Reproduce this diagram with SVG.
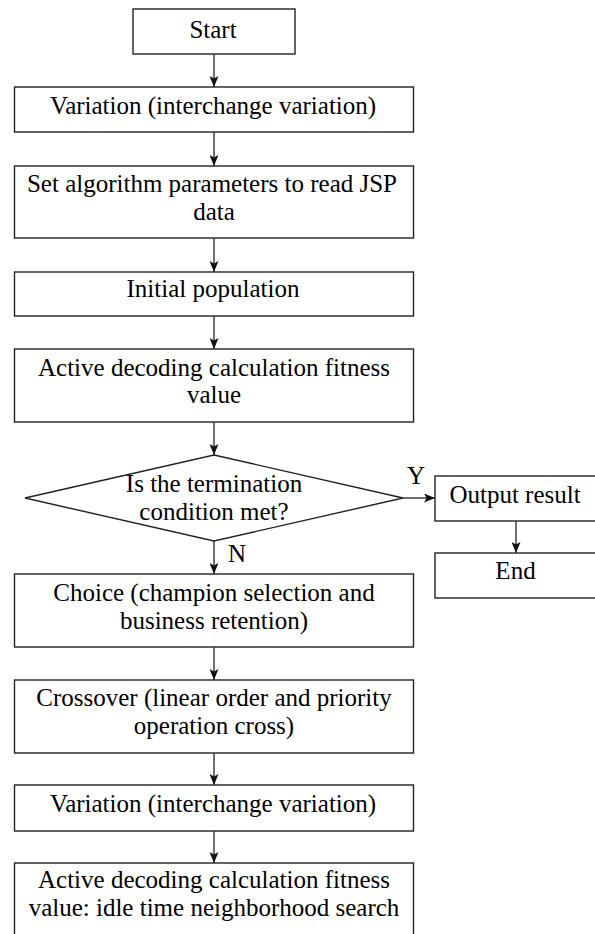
<svg xmlns="http://www.w3.org/2000/svg" width="595" height="934" viewBox="0 0 595 934">
  <defs>
    <marker id="arrow" viewBox="0 0 11 9" refX="11" refY="4.5" markerWidth="11" markerHeight="9" markerUnits="userSpaceOnUse" orient="auto">
      <path d="M0,0 L11,4.5 L0,9 L2.5,4.5 Z" fill="#111"/>
    </marker>
    <style>
      .box { fill: #fff; stroke: #222; stroke-width: 1.4; }
      .lbl { font-size: 25px; fill: #000; text-anchor: middle; }
      .edge { stroke: #222; stroke-width: 1.3; fill: none; marker-end: url(#arrow); }
    </style>
  </defs>
  <rect width="595" height="934" fill="#fff"/>

  <!-- flow arrows -->
  <g id="connectors">
    <line class="edge" x1="214" y1="54" x2="214" y2="87"/>
    <line class="edge" x1="214" y1="132" x2="214" y2="166"/>
    <line class="edge" x1="214" y1="238" x2="214" y2="272"/>
    <line class="edge" x1="214" y1="316" x2="214" y2="349"/>
    <line class="edge" x1="214" y1="422" x2="214" y2="455"/>
    <line class="edge" x1="214" y1="541" x2="214" y2="574"/>
    <line class="edge" x1="403" y1="498" x2="435" y2="498"/>
    <line class="edge" x1="516" y1="521" x2="516" y2="553"/>
    <line class="edge" x1="214" y1="647" x2="214" y2="680"/>
    <line class="edge" x1="214" y1="753" x2="214" y2="785"/>
    <line class="edge" x1="214" y1="831" x2="214" y2="863"/>
  </g>

  <g font-family="Liberation Serif, DejaVu Serif, serif">
  <g id="start">
    <rect class="box" x="133" y="9" width="162" height="45"/>
    <text class="lbl" x="213" y="38">Start</text>
  </g>
  <g id="variation1">
    <rect class="box" x="14.5" y="87" width="399" height="45"/>
    <text class="lbl" x="213" y="114">Variation (interchange variation)</text>
  </g>
  <g id="set-params">
    <rect class="box" x="14.5" y="166" width="399" height="72"/>
    <text class="lbl" x="212" y="192">Set algorithm parameters to read JSP</text>
    <text class="lbl" x="214" y="220">data</text>
  </g>
  <g id="init-pop">
    <rect class="box" x="14.5" y="272" width="399" height="44"/>
    <text class="lbl" x="213" y="297">Initial population</text>
  </g>
  <g id="decode1">
    <rect class="box" x="14.5" y="349" width="399" height="73"/>
    <text class="lbl" x="214" y="376">Active decoding calculation fitness</text>
    <text class="lbl" x="214" y="403">value</text>
  </g>
  <g id="check">
    <polygon class="box" points="214,455 403,498 214,541 25,498"/>
    <text class="lbl" x="214" y="492">Is the termination</text>
    <text class="lbl" x="214" y="520">condition met?</text>
  </g>
  <g id="output">
    <rect class="box" x="435" y="476" width="162" height="45"/>
    <text class="lbl" x="515" y="503">Output result</text>
  </g>
  <g id="end">
    <rect class="box" x="435" y="553" width="162" height="45"/>
    <text class="lbl" x="515.5" y="579">End</text>
  </g>
  <g id="choice">
    <rect class="box" x="14.5" y="574" width="399" height="73"/>
    <text class="lbl" x="214" y="601">Choice (champion selection and</text>
    <text class="lbl" x="214" y="629">business retention)</text>
  </g>
  <g id="crossover">
    <rect class="box" x="14.5" y="680" width="399" height="73"/>
    <text class="lbl" x="214" y="706">Crossover (linear order and priority</text>
    <text class="lbl" x="214" y="734">operation cross)</text>
  </g>
  <g id="variation2">
    <rect class="box" x="14.5" y="785" width="399" height="46"/>
    <text class="lbl" x="213" y="812">Variation (interchange variation)</text>
  </g>
  <g id="decode2">
    <rect class="box" x="14.5" y="863" width="399" height="80"/>
    <text class="lbl" x="214" y="888">Active decoding calculation fitness</text>
    <text class="lbl" x="214" y="916">value: idle time neighborhood search</text>
  </g>

  <g id="branch-labels">
    <text class="lbl" x="416" y="484">Y</text>
    <text class="lbl" x="237" y="562">N</text>
  </g>
  </g>
</svg>
